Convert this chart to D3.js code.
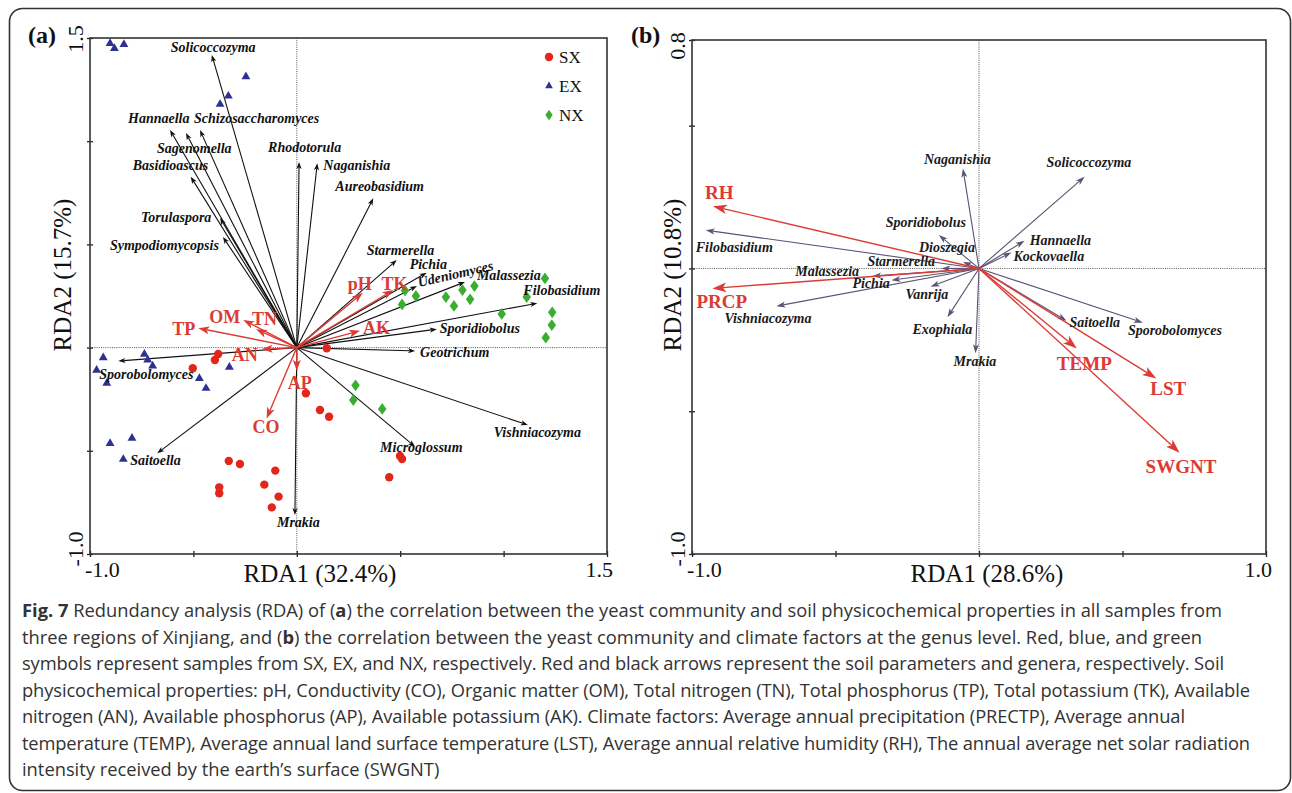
<!DOCTYPE html>
<html><head><meta charset="utf-8">
<script src="https://cdn.jsdelivr.net/npm/d3@7"></script>
<style>body{margin:0;background:#fff}svg{display:block}</style>
</head><body>
<svg id="c" width="1292" height="793"></svg>
<script>
// ---------------- DATA ----------------
// Panel (a) samples
const sxX=[-0.380,-0.396,-0.503,0.145,0.044,0.112,0.156,-0.329,-0.275,-0.104,-0.375,-0.375,-0.157,-0.088,-0.121,0.499,0.509,0.447];
const sxY=[-0.031,-0.060,-0.100,-0.003,-0.221,-0.302,-0.335,-0.549,-0.564,-0.596,-0.677,-0.706,-0.664,-0.722,-0.774,-0.525,-0.540,-0.628];
const exX=[-0.903,-0.882,-0.836,-0.246,-0.331,-0.371,-0.936,-0.968,-0.919,-0.737,-0.721,-0.697,-0.471,-0.439,-0.326,-0.903,-0.797,-0.839];
const exY=[1.474,1.450,1.469,1.313,1.219,1.179,-0.049,-0.109,-0.173,-0.032,-0.060,-0.089,-0.149,-0.197,-0.095,-0.464,-0.439,-0.541];
const nxX=[0.523,0.576,0.509,0.721,0.760,0.801,0.838,0.859,1.200,1.112,0.991,1.235,1.233,1.204,0.284,0.273,0.413];
const nxY=[0.277,0.250,0.209,0.245,0.202,0.279,0.234,0.298,0.335,0.245,0.163,0.171,0.109,0.048,-0.183,-0.254,-0.297];
const groups=["SX","EX","NX"];

// Panel (a) genus arrows
const genusA=["Solicoccozyma","Hannaella","Schizosaccharomyces","Sagenomella","Basidioascus","Torulaspora","Sympodiomycopsis","Rhodotorula","Naganishia","Aureobasidium","Starmerella","Pichia","Udeniomyces","Malassezia","Filobasidium","Sporidiobolus","Geotrichum","Vishniacozyma","Microglossum","Mrakia","Saitoella","Sporobolomyces"];
const genusA1=[-0.411,-0.613,-0.468,-0.536,-0.513,-0.371,-0.357,0.011,0.099,0.370,0.483,0.628,0.581,0.813,1.163,0.677,0.572,1.117,0.572,-0.009,-0.675,-0.863];
const genusA2=[1.418,1.054,1.054,1.040,0.828,0.628,0.536,0.899,0.893,0.723,0.424,0.363,0.298,0.318,0.215,0.089,-0.016,-0.375,-0.480,-0.811,-0.512,-0.065];
// Panel (a) soil arrows
const soilA=["pH","TK","AK","OM","TN","TP","AN","AP","CO"];
const soilA1=[0.319,0.467,0.306,-0.259,-0.197,-0.476,-0.170,0.000,-0.146];
const soilA2=[0.266,0.279,0.082,0.134,0.089,0.094,-0.008,-0.112,-0.343];

// Panel (b) genus arrows
const genusB=["Filobasidium","Vishniacozyma","Malassezia","Pichia","Starmerella","Dioszegia","Sporidiobolus","Naganishia","Vanrija","Exophiala","Mrakia","Solicoccozyma","Hannaella","Kockovaella","Saitoella","Sporobolomyces"];
const genusB1=[-0.952,-0.706,-0.372,-0.305,-0.131,-0.056,-0.140,-0.056,-0.169,-0.110,-0.012,0.368,0.159,0.113,0.305,0.571];
const genusB2=[0.134,-0.132,-0.027,-0.041,0.000,0.023,0.117,0.350,-0.064,-0.171,-0.297,0.321,0.097,0.056,-0.183,-0.190];
// Panel (b) climate arrows
const climB=["RH","PRCP","TEMP","LST","SWGNT"];
const climB1=[-0.927,-0.929,0.341,0.618,0.699];
const climB2=[0.218,-0.070,-0.280,-0.385,-0.645];

// Axis texts / ticks
const axisA={x:"RDA1 (32.4%)",y:"RDA2 (15.7%)",xdom:[-1.0,1.5],ydom:[-1.0,1.5],xt:[-1,-0.5,0,0.5,1,1.5],yt:[-1,-0.5,0,0.5,1,1.5],xl:["-1.0","1.5"],yl:["-1.0","1.5"]};
const axisB={x:"RDA1 (28.6%)",y:"RDA2 (10.8%)",xdom:[-1.0,1.0],ydom:[-1.0,0.8],xt:[-1,-0.5,0,0.5,1],yt:[-1,-0.5,0,0.5,0.8],xl:["-1.0","1.0"],yl:["-1.0","0.8"]};

const captionLines=[
 [["Fig. 7",1],[" Redundancy analysis (RDA) of (",0],["a",1],[") the correlation between the yeast community and soil physicochemical properties in all samples from",0]],
 [["three regions of Xinjiang, and (",0],["b",1],[") the correlation between the yeast community and climate factors at the genus level. Red, blue, and green",0]],
 [["symbols represent samples from SX, EX, and NX, respectively. Red and black arrows represent the soil parameters and genera, respectively. Soil",0]],
 [["physicochemical properties: pH, Conductivity (CO), Organic matter (OM), Total nitrogen (TN), Total phosphorus (TP), Total potassium (TK), Available",0]],
 [["nitrogen (AN), Available phosphorus (AP), Available potassium (AK). Climate factors: Average annual precipitation (PRECTP), Average annual",0]],
 [["temperature (TEMP), Average annual land surface temperature (LST), Average annual relative humidity (RH), The annual average net solar radiation",0]],
 [["intensity received by the earth\u2019s surface (SWGNT)",0]]
];

// ---------------- LAYOUT (pixel offsets of labels from arrow tips; caption line right ends) ----------------
const labOffA={Solicoccozyma:[-41,-3],Hannaella:[-42,-7],Schizosaccharomyces:[-6,-7],Sagenomella:[-29,20],Basidioascus:[-58,-7],Torulaspora:[-79,4],Sympodiomycopsis:[-113,13],Rhodotorula:[-31,-10],Naganishia:[6,7],Aureobasidium:[-38,-7],Starmerella:[-30,-5],Pichia:[-17,-4],Udeniomyces:[2,1,-13],Malassezia:[12,-2],Filobasidium:[-14,-8],Sporidiobolus:[3,4],Geotrichum:[5,6],Vishniacozyma:[-34,12],Microglossum:[-35,5],Mrakia:[-18,12],Saitoella:[-27,12],Sporobolomyces:[-19,18]};
const soilOffA={pH:[-15,-3],TK:[-12,0],AK:[3,3],OM:[-34,3],TN:[-4,-4],TP:[-26,7],AN:[-30,12],AP:[-9,18],CO:[-14,15]};
const labOffB={Filobasidium:[-10,22],Vishniacozyma:[-52,17],Malassezia:[-77,0],Pichia:[-39,8],Starmerella:[-74,-2],Dioszegia:[-44,-10],Sporidiobolus:[-53,-8],Naganishia:[-39,-5],Vanrija:[-25,12],Exophiala:[-35,17],Mrakia:[-22,13],Solicoccozyma:[-38,-10],Hannaella:[5,4],Kockovaella:[2,9],Saitoella:[3,6],Sporobolomyces:[-15,12]};
const climOffB={RH:[-8,-7],PRCP:[-16,20],TEMP:[-20,22],LST:[-6,17],SWGNT:[-34,20]};
const capEnds=[1222,1202,1224,1250,1185,1250,null];

const svg=d3.select("#c");
const SERIF="'Liberation Serif','Times New Roman',serif";
const RED="#dc3b35", PTRED="#e3261c", BLUE="#2e3192", GREEN="#3aae2e", BPURP="#5a5375";

// outer figure frame
svg.append("rect").attr("x",9.5).attr("y",8.5).attr("width",1281).attr("height",782).attr("rx",13)
  .attr("fill","none").attr("stroke","#333").attr("stroke-width",1.6);

function arrow(g,x0,y0,x1,y1,color,w,hl,hw){
  const dx=x1-x0,dy=y1-y0,L=Math.hypot(dx,dy),ux=dx/L,uy=dy/L,px=-uy,py=ux;
  const bx=x1-hl*ux,by=y1-hl*uy,nx=x1-hl*0.75*ux,ny=y1-hl*0.75*uy;
  g.append("line").attr("x1",x0).attr("y1",y0).attr("x2",nx).attr("y2",ny).attr("stroke",color).attr("stroke-width",w);
  g.append("path").attr("d",`M${x1},${y1}L${bx+hw*px},${by+hw*py}L${nx},${ny}L${bx-hw*px},${by-hw*py}Z`).attr("fill",color).attr("stroke","none");
}

function frame(g,x,y,ax,box,tickLabYbase,topShift){
  const [L,T,R,B]=box;
  g.append("line").attr("x1",x(0)).attr("x2",x(0)).attr("y1",T).attr("y2",B).attr("stroke","#555").attr("stroke-width",1).attr("stroke-dasharray","1,1.2");
  g.append("line").attr("x1",L).attr("x2",R).attr("y1",y(0)).attr("y2",y(0)).attr("stroke","#555").attr("stroke-width",1).attr("stroke-dasharray","1,1.2");
  const xa=g.append("g").attr("transform",`translate(0,${B})`).call(d3.axisBottom(x).tickValues(ax.xt).tickFormat("").tickSizeInner(3).tickSizeOuter(0));
  xa.selectAll(".tick line").attr("y1",-3).attr("stroke","#222").attr("stroke-width",1.3);
  xa.select(".domain").remove();
  const ya=g.append("g").attr("transform",`translate(${L},0)`).call(d3.axisLeft(y).tickValues(ax.yt).tickFormat("").tickSizeInner(3).tickSizeOuter(0));
  ya.selectAll(".tick line").attr("x1",3).attr("stroke","#222").attr("stroke-width",1.3);
  ya.select(".domain").remove();
  g.append("rect").attr("x",L).attr("y",T).attr("width",R-L).attr("height",B-T).attr("fill","none").attr("stroke","#333").attr("stroke-width",1.6);
  g.append("text").attr("x",L-5).attr("y",577).attr("font-family",SERIF).attr("font-size",22).attr("fill","#111").text(ax.xl[0]);
  g.append("text").attr("x",R+6).attr("y",577).attr("text-anchor","end").attr("font-family",SERIF).attr("font-size",22).attr("fill","#111").text(ax.xl[1]);
  g.append("text").attr("transform",`translate(${tickLabYbase},${B-5}) rotate(-90)`).attr("text-anchor","middle").attr("font-family",SERIF).attr("font-size",22).attr("fill","#111").text(ax.yl[0]);
  g.append("text").attr("transform",`translate(${tickLabYbase},${T+topShift}) rotate(-90)`).attr("text-anchor","middle").attr("font-family",SERIF).attr("font-size",22).attr("fill","#111").text(ax.yl[1]);
}

// ---------------- PANEL A ----------------
{
  const box=[90,38,607,554];
  const x=d3.scaleLinear().domain(axisA.xdom).range([box[0],box[2]]);
  const y=d3.scaleLinear().domain(axisA.ydom).range([box[3],box[1]]);
  const g=svg.append("g");
  frame(g,x,y,axisA,box,83,1);
  g.append("text").attr("x",28).attr("y",43).attr("font-family",SERIF).attr("font-weight","bold").attr("font-size",24).attr("fill","#111").text("(a)");
  g.append("text").attr("x",320).attr("y",582).attr("text-anchor","middle").attr("font-family",SERIF).attr("font-size",25).attr("fill","#111").text(axisA.x);
  g.append("text").attr("transform",`translate(71,275) rotate(-90)`).attr("text-anchor","middle").attr("font-family",SERIF).attr("font-size",25).attr("fill","#111").text(axisA.y);

  genusA.forEach((n,i)=>arrow(g,x(0),y(0),x(genusA1[i]),y(genusA2[i]),"#111",1.1,7,2.6));
  soilA.forEach((n,i)=>arrow(g,x(0),y(0),x(soilA1[i]),y(soilA2[i]),RED,1.4,11,4));
  sxX.forEach((v,i)=>g.append("circle").attr("cx",x(v)).attr("cy",y(sxY[i])).attr("r",4.2).attr("fill",PTRED));
  const tri=d3.symbol().type(d3.symbolTriangle).size(34);
  exX.forEach((v,i)=>g.append("path").attr("d",tri).attr("transform",`translate(${x(v)},${y(exY[i])})`).attr("fill",BLUE));
  const dia=d3.symbol().type(d3.symbolDiamond).size(40);
  nxX.forEach((v,i)=>g.append("path").attr("d",dia).attr("transform",`translate(${x(v)},${y(nxY[i])}) scale(1.25,1)`).attr("fill",GREEN));
  genusA.forEach((n,i)=>{
    const o=labOffA[n],tx=x(genusA1[i])+o[0],ty=y(genusA2[i])+o[1];
    const t=g.append("text").attr("x",tx).attr("y",ty).attr("font-family",SERIF).attr("font-style","italic").attr("font-weight","bold").attr("font-size",14).attr("fill","#111").text(n);
    if(o[2]) t.attr("transform",`rotate(${o[2]},${tx},${ty})`);
  });
  soilA.forEach((n,i)=>{
    const o=soilOffA[n];
    g.append("text").attr("x",x(soilA1[i])+o[0]).attr("y",y(soilA2[i])+o[1]).attr("font-family",SERIF).attr("font-weight","bold").attr("font-size",18).attr("fill",RED).text(n);
  });
  const lg=g.append("g");
  const cols=[PTRED,BLUE,GREEN];
  groups.forEach((k,i)=>{
    const cy=57+i*29;
    if(i===0) lg.append("circle").attr("cx",549).attr("cy",cy).attr("r",4.2).attr("fill",cols[i]);
    if(i===1) lg.append("path").attr("d",d3.symbol().type(d3.symbolTriangle).size(26)).attr("transform",`translate(549,${cy})`).attr("fill",cols[i]);
    if(i===2) lg.append("path").attr("d",d3.symbol().type(d3.symbolDiamond).size(32)).attr("transform",`translate(549,${cy}) scale(1.2,1)`).attr("fill",cols[i]);
    lg.append("text").attr("x",559).attr("y",cy+6).attr("font-family",SERIF).attr("font-size",17).attr("fill","#111").text(k);
  });
}

// ---------------- PANEL B ----------------
{
  const box=[692,40,1266,554];
  const x=d3.scaleLinear().domain(axisB.xdom).range([box[0],box[2]]);
  const y=d3.scaleLinear().domain(axisB.ydom).range([box[3],box[1]]);
  const g=svg.append("g");
  frame(g,x,y,axisB,box,685,6);
  g.append("text").attr("x",631).attr("y",43).attr("font-family",SERIF).attr("font-weight","bold").attr("font-size",24).attr("fill","#111").text("(b)");
  g.append("text").attr("x",987).attr("y",582).attr("text-anchor","middle").attr("font-family",SERIF).attr("font-size",25).attr("fill","#111").text(axisB.x);
  g.append("text").attr("transform",`translate(681,275) rotate(-90)`).attr("text-anchor","middle").attr("font-family",SERIF).attr("font-size",25).attr("fill","#111").text(axisB.y);

  genusB.forEach((n,i)=>arrow(g,x(0),y(0),x(genusB1[i]),y(genusB2[i]),BPURP,1.1,9,3));
  climB.forEach((n,i)=>arrow(g,x(0),y(0),x(climB1[i]),y(climB2[i]),RED,1.4,14,4.8));
  genusB.forEach((n,i)=>{
    const o=labOffB[n];
    g.append("text").attr("x",x(genusB1[i])+o[0]).attr("y",y(genusB2[i])+o[1]).attr("font-family",SERIF).attr("font-style","italic").attr("font-weight","bold").attr("font-size",14).attr("fill","#1a1a1a").text(n);
  });
  climB.forEach((n,i)=>{
    const o=climOffB[n];
    g.append("text").attr("x",x(climB1[i])+o[0]).attr("y",y(climB2[i])+o[1]).attr("font-family",SERIF).attr("font-weight","bold").attr("font-size",19).attr("fill",RED).text(n);
  });
}

// ---------------- CAPTION ----------------
{
  const cap=svg.append("g");
  const X0=22;
  const texts=captionLines.map((segs,i)=>{
    const t=cap.append("text").attr("x",X0).attr("y",617+i*26.5).attr("font-family","'Open Sans','Noto Sans',sans-serif").attr("font-size",18).attr("fill","#333");
    segs.forEach(s=>t.append("tspan").attr("font-weight",s[1]?"bold":null).text(s[0]));
    return t;
  });
  const w=texts[0].node().getComputedTextLength();
  const fs=18*(capEnds[0]-X0)/w;
  texts.forEach((t,i)=>{
    t.attr("font-size",fs);
    if(capEnds[i]) t.attr("textLength",capEnds[i]-X0).attr("lengthAdjust","spacing");
  });
}
</script>
</body></html>
